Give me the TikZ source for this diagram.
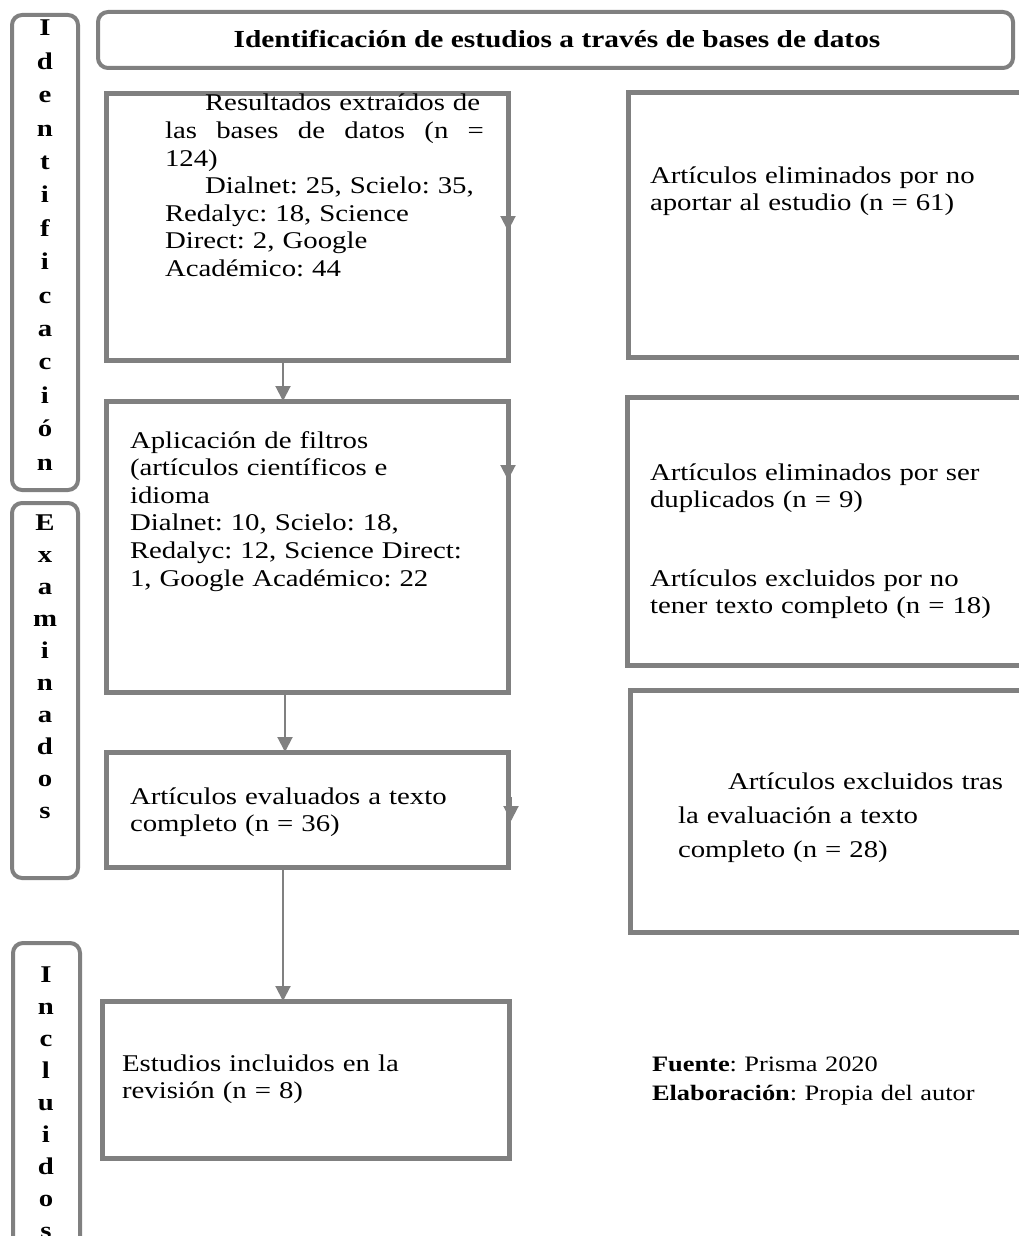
\documentclass[tikz,border=0pt]{standalone}
\usepackage{fontspec}
\setmainfont[FakeStretch=1.2]{Liberation Serif}
\usetikzlibrary{arrows.meta,calc}
\definecolor{lg}{HTML}{808080}
\frenchspacing
\begin{document}
\begin{tikzpicture}[x=1pt,y=-1pt,
  box/.style={draw=lg,line width=5pt,inner sep=0pt,outer sep=0pt,anchor=north west},
  rbox/.style={draw=lg,line width=4pt,rounded corners=10pt,inner sep=0pt,outer sep=0pt,anchor=north west},
  txt/.style={inner sep=0pt,outer sep=0pt,anchor=base west,align=left,text width=440pt,font=\fontsize{24}{27.6}\selectfont},
  lbl/.style={inner sep=0pt,outer sep=0pt,anchor=base,align=center,text width=40pt,font=\fontsize{24}{33.4}\bfseries\selectfont},
  conn/.style={draw=lg,line width=2pt,-{Triangle[length=15pt,width=15pt]}},
]
\clip (0,0) rectangle (1019,1236);
\fill[white] (0,0) rectangle (1019,1236);

% side labels
\node[rbox,minimum width=66pt,minimum height=475pt] (L1) at (12,15) {};
\node[rbox,minimum width=66pt,minimum height=375pt] (L2) at (12,503) {};
\node[rbox,minimum width=67pt,minimum height=330pt] (L3) at (13,943) {};
\node[lbl] (L1t) at (45,36) {I\\d\\e\\n\\t\\i\\f\\i\\c\\a\\c\\i\\ó\\n};
\node[lbl,font=\fontsize{24}{32}\bfseries\selectfont] (L2t) at (45,530) {E\\x\\a\\m\\i\\n\\a\\d\\o\\s};
\node[lbl,font=\fontsize{24}{32}\bfseries\selectfont] (L3t) at (46,982) {I\\n\\c\\l\\u\\i\\d\\o\\s};

% title
\node[rbox,minimum width=915pt,minimum height=56pt] (T) at (98,12) {};
\node[anchor=base,inner sep=0pt,font=\fontsize{24.5}{27.6}\bfseries\selectfont] (Tt) at (557,48) {Identificación de estudios a través de bases de datos};

% left column
\node[box,minimum width=402pt,minimum height=266pt] (b1) at (106,94) {};
\node[box,minimum width=402pt,minimum height=291pt] (b2) at (106,401) {};
\node[box,minimum width=402pt,minimum height=115pt] (b3) at (106,752) {};
\node[box,minimum width=407pt,minimum height=157pt] (b4) at (102,1001) {};

\node[txt] (b1t) at (165,111) {\hspace*{40pt}Resultados extraídos de\\\makebox[319pt][l]{las\hfill bases\hfill de\hfill datos\hfill (n\hfill =}\\124)\\\hspace*{40pt}Dialnet: 25, Scielo: 35,\\Redalyc: 18, Science\\Direct: 2, Google\\Académico: 44};
\node[txt] (b2t) at (130,448) {Aplicación de filtros\\(artículos científicos e\\idioma\\Dialnet: 10, Scielo: 18,\\Redalyc: 12, Science Direct:\\1, Google Académico: 22};
\node[txt] (b3t) at (130,804) {Artículos evaluados a texto\\completo (n = 36)};
\node[txt] (b4t) at (122,1071) {Estudios incluidos en la\\revisión (n = 8)};

% right column
\node[box,minimum width=450pt,minimum height=264pt] (r1) at (628,93) {};
\node[box,minimum width=450pt,minimum height=268pt] (r2) at (627,397) {};
\node[box,minimum width=450pt,minimum height=242pt] (r3) at (630,690) {};

\node[txt] (r1t) at (650,183) {Artículos eliminados por no\\aportar al estudio (n = 61)};
\node[txt] (r2t) at (650,480) {Artículos eliminados por ser\\duplicados (n = 9)};
\node[txt] (r2u) at (650,586) {Artículos excluidos por no\\tener texto completo (n = 18)};
\node[txt,font=\fontsize{24}{34}\selectfont] (r3t) at (678,789) {\hspace*{50pt}Artículos excluidos tras\\la evaluación a texto\\completo (n = 28)};

% footer
\node[txt,font=\fontsize{22}{29}\selectfont] (src) at (652,1071) {\textbf{Fuente}: Prisma 2020\\\textbf{Elaboración}: Propia del autor};

% connectors
\draw[conn] ($(b1.south west)+(177,0)$) -- ($(b2.north west)+(177,0)$);
\draw[conn] ($(b2.south west)+(179,0)$) -- ($(b3.north west)+(179,0)$);
\draw[conn] ($(b3.south west)+(177,0)$) -- ($(b4.north west)+(181,0)$);
\draw[conn] ($(b1.north east)+(0,110)$) -- ($(b1.north east)+(0,137)$);
\draw[conn] ($(b2.north east)+(0,55)$) -- ($(b2.north east)+(0,79)$);
\draw[conn] ($(b3.north east)+(3,45)$) -- ($(b3.north east)+(3,69)$);
\end{tikzpicture}
\end{document}
